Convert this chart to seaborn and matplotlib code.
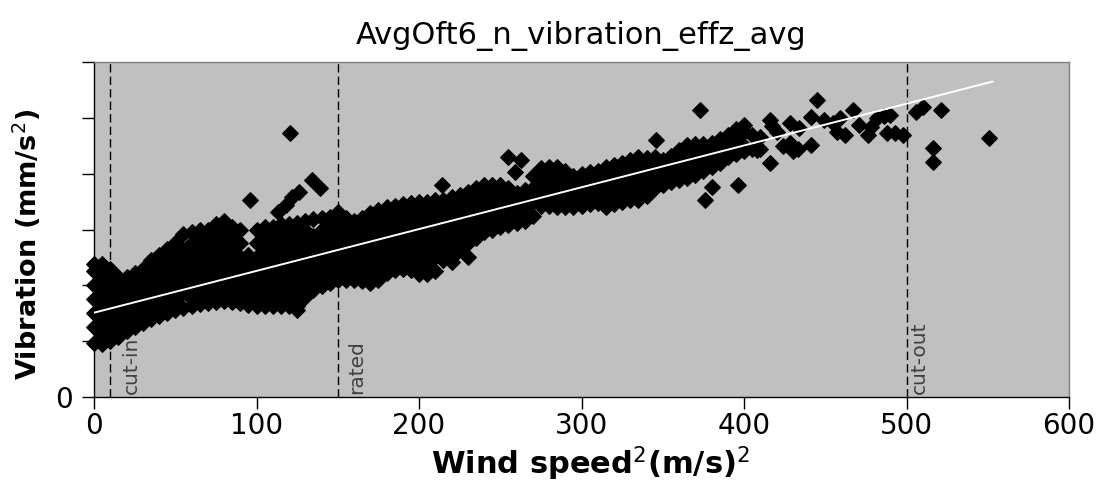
import matplotlib
matplotlib.use("Agg")
import matplotlib.pyplot as plt
import seaborn as sns
import pandas as pd

# ---------------- data ----------------
title = "AvgOft6_n_vibration_effz_avg"

# dense core of the cloud: (wind speed^2, [vibration values]) per column
band_0_95 = [
    (0, [0.97, 1.25, 1.5, 1.75, 2.0, 2.25, 2.38]),
    (5, [0.95, 1.13, 1.38, 1.63, 1.88, 2.13, 2.38]),
    (10, [1.0, 1.25, 1.5, 1.75, 2.0, 2.25, 2.3]),
    (15, [1.08, 1.13, 1.38, 1.63, 1.88, 2.15]),
    (20, [1.18, 1.25, 1.5, 1.75, 2.0, 2.15]),
    (25, [1.25, 1.38, 1.63, 1.88, 2.13, 2.22]),
    (30, [1.32, 1.5, 1.75, 2.0, 2.25, 2.3]),
    (35, [1.4, 1.63, 1.88, 2.13, 2.38, 2.45]),
    (40, [1.45, 1.5, 1.75, 2.0, 2.25, 2.5, 2.55]),
    (45, [1.5, 1.63, 1.88, 2.13, 2.38, 2.65]),
    (50, [1.55, 1.75, 2.0, 2.25, 2.5, 2.75]),
    (55, [1.6, 1.88, 2.13, 2.38, 2.63, 2.92]),
    (60, [1.63, 1.75, 2.0, 2.25, 2.5, 2.75, 2.95]),
    (65, [1.66, 1.88, 2.13, 2.38, 2.63, 2.88, 3.0]),
    (70, [1.68, 1.75, 2.0, 2.25, 2.5, 2.75, 3.0]),
    (75, [1.7, 1.88, 2.13, 2.38, 2.63, 2.88, 3.1]),
    (80, [1.72, 2.0, 2.25, 2.5, 2.75, 3.0, 3.15]),
    (85, [1.7, 1.88, 2.13, 2.38, 2.63, 2.88, 3.05]),
    (90, [1.68, 1.75, 2.0, 2.25, 2.5, 2.75, 3.0]),
    (95, [1.65, 1.88, 2.13, 2.38, 2.55]),
]
band_100_195 = [
    (100, [1.63, 1.75, 2.0, 2.25, 2.5, 2.75, 3.0]),
    (105, [1.63, 1.88, 2.13, 2.38, 2.63, 2.88, 3.05]),
    (110, [1.63, 1.75, 2.0, 2.25, 2.5, 2.75, 3.0, 3.05]),
    (115, [1.63, 1.88, 2.13, 2.38, 2.63, 2.88, 3.1]),
    (120, [1.63, 1.75, 2.0, 2.25, 2.5, 2.75, 3.0, 3.1]),
    (125, [1.56, 1.63, 1.88, 2.13, 2.38, 2.63, 2.88, 3.12]),
    (130, [1.8, 2.0, 2.25, 2.5, 2.75, 3.0, 3.15]),
    (135, [1.92, 2.13, 2.38, 2.63, 2.88, 3.18]),
    (140, [1.98, 2.25, 2.5, 2.75, 3.0, 3.2]),
    (145, [2.05, 2.13, 2.38, 2.63, 2.88, 3.13, 3.22]),
    (150, [2.1, 2.25, 2.5, 2.75, 3.0, 3.25, 3.32]),
    (155, [2.1, 2.38, 2.63, 2.88, 3.13, 3.2]),
    (160, [2.1, 2.25, 2.5, 2.75, 3.0, 3.15]),
    (165, [2.08, 2.13, 2.38, 2.63, 2.88, 3.13, 3.2]),
    (170, [2.05, 2.25, 2.5, 2.75, 3.0, 3.25, 3.3]),
    (175, [2.1, 2.13, 2.38, 2.63, 2.88, 3.13, 3.35]),
    (180, [2.22, 2.25, 2.5, 2.75, 3.0, 3.25, 3.4]),
    (185, [2.28, 2.38, 2.63, 2.88, 3.13, 3.38, 3.42]),
    (190, [2.3, 2.5, 2.75, 3.0, 3.25, 3.45]),
    (195, [2.28, 2.38, 2.63, 2.88, 3.13, 3.38, 3.47]),
]
band_200_295 = [
    (200, [2.2, 2.25, 2.5, 2.75, 3.0, 3.25, 3.49]),
    (205, [2.2, 2.38, 2.63, 2.88, 3.13, 3.38, 3.5]),
    (210, [2.25, 2.5, 2.75, 3.0, 3.25, 3.52]),
    (215, [2.45, 2.63, 2.88, 3.13, 3.38, 3.53]),
    (220, [2.42, 2.5, 2.75, 3.0, 3.25, 3.5, 3.58]),
    (225, [2.65, 2.88, 3.13, 3.38, 3.62]),
    (230, [2.5, 2.75, 3.0, 3.25, 3.5, 3.68]),
    (235, [2.85, 3.13, 3.38, 3.63, 3.75]),
    (240, [2.95, 3.0, 3.25, 3.5, 3.75, 3.8]),
    (245, [3.0, 3.13, 3.38, 3.63, 3.8]),
    (250, [3.05, 3.25, 3.5, 3.75, 3.8]),
    (255, [3.08, 3.13, 3.38, 3.63, 3.75]),
    (260, [3.12, 3.25, 3.5, 3.65]),
    (265, [3.15, 3.38, 3.63, 3.7]),
    (270, [3.25, 3.5, 3.75, 3.95]),
    (275, [3.42, 3.63, 3.88, 4.1]),
    (280, [3.42, 3.5, 3.75, 4.0, 4.12]),
    (285, [3.4, 3.63, 3.88, 4.12]),
    (290, [3.4, 3.5, 3.75, 4.0, 4.05]),
    (295, [3.4, 3.63, 3.88, 3.95]),
]
band_300_410 = [
    (300, [3.42, 3.5, 3.75, 4.0]),
    (305, [3.45, 3.63, 3.88, 4.03]),
    (310, [3.48, 3.75, 4.0, 4.05]),
    (315, [3.4, 3.63, 3.88, 4.12]),
    (320, [3.45, 3.5, 3.75, 4.0, 4.15]),
    (325, [3.5, 3.63, 3.88, 4.13, 4.2]),
    (330, [3.52, 3.75, 4.0, 4.25]),
    (335, [3.53, 3.63, 3.88, 4.13, 4.3]),
    (340, [3.6, 3.75, 4.0, 4.25, 4.28]),
    (345, [3.75, 3.88, 4.13, 4.3]),
    (350, [3.8, 4.0, 4.25]),
    (355, [3.85, 4.13, 4.32]),
    (360, [3.88, 4.0, 4.25, 4.42]),
    (365, [3.92, 4.13, 4.38, 4.52]),
    (370, [3.97, 4.25, 4.5, 4.53]),
    (375, [4.05, 4.13, 4.38, 4.53]),
    (380, [4.12, 4.25, 4.5, 4.55]),
    (385, [4.2, 4.38, 4.62]),
    (390, [4.3, 4.5, 4.7]),
    (395, [4.35, 4.63, 4.8]),
    (400, [4.4, 4.5, 4.75, 4.87]),
    (405, [4.45, 4.7]),
    (410, [4.45, 4.65]),
]

# scattered points outside the dense core
sparse_x = [96, 113, 118, 122, 126, 120.6, 134, 139, 214, 255, 263, 259,
            346, 373, 376, 380, 396, 408, 416, 416, 417, 420,
            424, 428, 430, 433, 428, 434, 441, 441, 445,
            449, 455, 459, 462, 457, 467, 471, 476, 478,
            482, 486, 490, 488, 493, 498, 506, 510, 521, 516, 516, 551]
sparse_y = [3.53, 3.32, 3.44, 3.58, 3.67, 4.73, 3.89, 3.75, 3.80, 4.30, 4.25, 4.03,
            4.61, 5.14, 3.53, 3.76, 3.80, 4.43, 4.19, 4.96, 4.85, 4.75,
            4.50, 4.55, 4.40, 4.45, 4.91, 4.82, 5.02, 4.52, 5.32,
            4.96, 4.91, 5.00, 4.70, 4.75, 5.14, 4.87, 4.70, 4.84,
            5.00, 5.03, 5.05, 4.73, 4.72, 4.70, 5.10, 5.20, 5.14, 4.46, 4.21, 4.64]

# linear fit drawn in white
fit_x = [0, 553]
fit_y = [1.51, 5.65]

# operating limits
limit_x = [10, 150, 500]
limit_labels = ["cut-in", "rated", "cut-out"]

x_ticks = [0, 100, 200, 300, 400, 500, 600]
y_ticks = [0, 1, 2, 3, 4, 5, 6]
y_tick_labels = ["0", "", "", "", "", "", ""]

# ---------------- build table ----------------
rows = []
for seg in (band_0_95, band_100_195, band_200_295, band_300_410):
    for xv, ys in seg:
        for yv in ys:
            rows.append((xv, yv))
for xv, yv in zip(sparse_x, sparse_y):
    rows.append((xv, yv))
df = pd.DataFrame(rows, columns=["wind2", "vib"])

# ---------------- plot ----------------
sns.set_style("ticks")
plt.rcParams["font.family"] = ["DejaVu Sans"]
plt.rcParams["mathtext.fontset"] = "dejavusans"
plt.rcParams["text.color"] = "black"
plt.rcParams["axes.labelcolor"] = "black"
plt.rcParams["xtick.color"] = "black"
plt.rcParams["ytick.color"] = "black"

fig = plt.figure(figsize=(11.01, 4.87), dpi=100)
ax = fig.add_axes([94 / 1101, 1 - 397 / 487, 975 / 1101, 335 / 487])
ax.set_facecolor("#c0c0c0")

sns.scatterplot(data=df, x="wind2", y="vib", marker="D", s=62, color="black",
                edgecolor="black", linewidth=1.0, legend=False, ax=ax,
                clip_on=False, zorder=3)
sns.lineplot(x=fit_x, y=fit_y, color="white", linewidth=1.4, ax=ax, zorder=4)

label_dx = [7, 5.5, 1.8]
for xv, lab, dx in zip(limit_x, limit_labels, label_dx):
    ax.axvline(xv, color="black", linewidth=1.0, linestyle=(0, (6, 3)), zorder=2)
    ax.text(xv + dx, 0.06, lab, rotation=90, ha="left", va="bottom",
            fontsize=14.5, color="#404040", zorder=5)

ax.set_xlim(0, 600)
ax.set_ylim(0, 6)
ax.set_xticks(x_ticks)
ax.set_xticklabels([str(v) for v in x_ticks])
ax.set_yticks(y_ticks)
ax.set_yticklabels(y_tick_labels)
ax.tick_params(axis="both", direction="out", length=8.5, width=1.0,
               color="black", labelsize=20, labelcolor="black")
ax.tick_params(axis="x", pad=2)
ax.tick_params(axis="y", pad=7)

for side in ("left", "bottom"):
    ax.spines[side].set_color("black")
    ax.spines[side].set_linewidth(1.0)
for side in ("top", "right"):
    ax.spines[side].set_visible(True)
    ax.spines[side].set_color("#808080")
    ax.spines[side].set_linewidth(1.0)

ax.set_title(title, fontsize=22, pad=13, color="black")
ax.set_xlabel("Wind speed$^2$(m/s)$^2$", fontsize=22, fontweight="bold")
ax.set_ylabel("Vibration (mm/s$^2$)", fontsize=19.5, fontweight="bold")
ax.xaxis.set_label_coords(0.509, -0.142)
ax.yaxis.set_label_coords(-0.052, 0.454)

fig.savefig("out.png", dpi=100, facecolor="white")
